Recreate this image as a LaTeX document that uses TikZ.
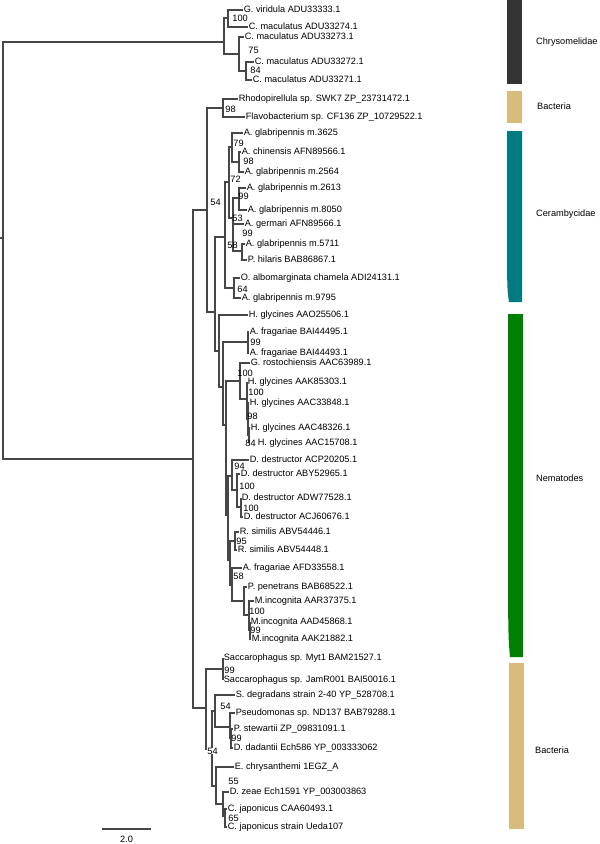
\documentclass[tikz,border=0pt]{standalone}
\usepackage{fontspec}
\setmainfont{Liberation Sans}
\definecolor{chryso}{HTML}{333333}
\definecolor{bact}{HTML}{D8BC7D}
\definecolor{ceram}{HTML}{007B7F}
\definecolor{nema}{HTML}{007F00}

\begin{document}
\begin{tikzpicture}[x=1pt, y=-1pt,
    leaf/.style={anchor=west, inner sep=0.6pt, font=\fontsize{9.2}{10}\selectfont, text height=6.6pt, text depth=1.7pt},
    boot/.style={anchor=west, inner sep=0.2pt, font=\fontsize{9.2}{10}\selectfont},
    branch/.style={draw=black!72, line width=1.1pt},
    cladelabel/.style={anchor=west, inner sep=0pt, font=\fontsize{9.2}{10}\selectfont}
]
\useasboundingbox (0,0) rectangle (600,844);

% leaves
\node[leaf] (l1) at (243,10) {G. viridula ADU33333.1};
\node[leaf] (l2) at (248,27) {C. maculatus ADU33274.1};
\node[leaf] (l3) at (244,37) {C. maculatus ADU33273.1};
\node[leaf] (l4) at (254,62) {C. maculatus ADU33272.1};
\node[leaf] (l5) at (252,80) {C. maculatus ADU33271.1};
\node[leaf] (l6) at (238,99) {Rhodopirellula sp. SWK7 ZP\_23731472.1};
\node[leaf] (l7) at (245,117) {Flavobacterium sp. CF136 ZP\_10729522.1};
\node[leaf] (l8) at (243,133) {A. glabripennis m.3625};
\node[leaf] (l9) at (241,152) {A. chinensis AFN89566.1};
\node[leaf] (l10) at (244,172) {A. glabripennis m.2564};
\node[leaf] (l11) at (246,188) {A. glabripennis m.2613};
\node[leaf] (l12) at (247,210) {A. glabripennis m.8050};
\node[leaf] (l13) at (244,224) {A. germari AFN89566.1};
\node[leaf] (l14) at (245,244) {A. glabripennis m.5711};
\node[leaf] (l15) at (247,260) {P. hilaris BAB86867.1};
\node[leaf] (l16) at (240,278) {O. albomarginata chamela ADI24131.1};
\node[leaf] (l17) at (241,298) {A. glabripennis m.9795};
\node[leaf] (l18) at (248,315) {H. glycines AAO25506.1};
\node[leaf] (l19) at (249,332) {A. fragariae BAI44495.1};
\node[leaf] (l20) at (249,353) {A. fragariae BAI44493.1};
\node[leaf] (l21) at (250,363) {G. rostochiensis AAC63989.1};
\node[leaf] (l22) at (247,382) {H. glycines AAK85303.1};
\node[leaf] (l23) at (249,403) {H. glycines AAC33848.1};
\node[leaf] (l24) at (250,428) {H. glycines AAC48326.1};
\coordinate (t25) at (249,443);
\node[leaf] (l25) at (257,443) {H. glycines AAC15708.1};
\node[leaf] (l26) at (249,460) {D. destructor ACP20205.1};
\node[leaf] (l27) at (240,474) {D. destructor ABY52965.1};
\node[leaf] (l28) at (241,498) {D. destructor ADW77528.1};
\node[leaf] (l29) at (243,517) {D. destructor ACJ60676.1};
\node[leaf] (l30) at (239,532) {R. similis ABV54446.1};
\node[leaf] (l31) at (237,550) {R. similis ABV54448.1};
\node[leaf] (l32) at (242,568) {A. fragariae AFD33558.1};
\node[leaf] (l33) at (247,587) {P. penetrans BAB68522.1};
\node[leaf] (l34) at (254,601) {M.incognita AAR37375.1};
\node[leaf] (l35) at (250,622) {M.incognita AAD45868.1};
\node[leaf] (l36) at (251,639) {M.incognita AAK21882.1};
\node[leaf] (l37) at (223,658) {Saccarophagus sp. Myt1 BAM21527.1};
\node[leaf] (l38) at (223,680) {Saccarophagus sp. JamR001 BAI50016.1};
\node[leaf] (l39) at (235,695) {S. degradans strain 2-40 YP\_528708.1};
\node[leaf] (l40) at (235,713) {Pseudomonas sp. ND137 BAB79288.1};
\node[leaf] (l41) at (233,729) {P. stewartii ZP\_09831091.1};
\node[leaf] (l42) at (233,748) {D. dadantii Ech586 YP\_003333062};
\node[leaf] (l43) at (234,767) {E. chrysanthemi 1EGZ\_A};
\node[leaf] (l44) at (229,792) {D. zeae Ech1591 YP\_003003863};
\node[leaf] (l45) at (227,809) {C. japonicus CAA60493.1};
\node[leaf] (l46) at (227,827) {C. japonicus strain Ueda107};

% internal nodes
\coordinate (r0) at (0,238);
\coordinate (rt) at (3,238);
\coordinate (c1) at (224,42);
\coordinate (ca) at (228,18);
\coordinate (cb) at (239,54);
\coordinate (cc) at (246,71);
\coordinate (n1) at (193,459);
\coordinate (n2) at (207,210);
\coordinate (bp) at (223,108);
\coordinate (n3) at (215,312);
\coordinate (ce) at (225,237);
\coordinate (cd) at (229,182);
\coordinate (cf) at (232,147);
\coordinate (ch) at (239,162);
\coordinate (cg) at (233,218);
\coordinate (ci) at (239,198);
\coordinate (cj) at (242,251);
\coordinate (ck) at (234,288);
\coordinate (nm) at (219,351);
\coordinate (nm2) at (223,387);
\coordinate (p1) at (248,342);
\coordinate (nm3) at (226,425);
\coordinate (hg1) at (240,381);
\coordinate (hg2) at (247,399);
\coordinate (hg3) at (248,419);
\coordinate (hg4) at (249,435);
\coordinate (nm4) at (228,515);
\coordinate (dg1) at (232,476);
\coordinate (dg2) at (237,490);
\coordinate (dg3) at (241,507);
\coordinate (nm5) at (230,560);
\coordinate (rg) at (235,541);
\coordinate (mg1) at (232,585);
\coordinate (mg2) at (244,601);
\coordinate (mg3) at (249,615);
\coordinate (mg4) at (250,630);
\coordinate (bb) at (206,708);
\coordinate (s1) at (223,669);
\coordinate (bc) at (212,749);
\coordinate (bd) at (215,711);
\coordinate (bf) at (230,727);
\coordinate (bg) at (231,738);
\coordinate (be) at (216,786);
\coordinate (bh) at (223,804);
\coordinate (bi) at (225,816);

% branches
\foreach \p/\c in {r0/rt, rt/c1, rt/n1, c1/ca, c1/cb, ca/l1.west, ca/l2.west, cb/l3.west, cb/cc,
    cc/l4.west, cc/l5.west, n1/n2, n1/bb, n2/bp, n2/n3, bp/l6.west, bp/l7.west, n3/ce, n3/nm,
    ce/cd, ce/ck, cd/cf, cd/cg, cf/l8.west, cf/ch, ch/l9.west, ch/l10.west, cg/ci, cg/l13.west,
    cg/cj, ci/l11.west, ci/l12.west, cj/l14.west, cj/l15.west, ck/l16.west, ck/l17.west,
    nm/l18.west, nm/nm2, nm2/p1, nm2/nm3, p1/l19.west, p1/l20.west, nm3/hg1, nm3/nm4,
    hg1/l21.west, hg1/hg2, hg2/l22.west, hg2/hg3, hg3/l23.west, hg3/hg4, hg4/l24.west, hg4/t25,
    nm4/dg1, nm4/nm5, dg1/l26.west, dg1/dg2, dg2/l27.west, dg2/dg3, dg3/l28.west, dg3/l29.west,
    nm5/rg, nm5/mg1, rg/l30.west, rg/l31.west, mg1/l32.west, mg1/mg2, mg2/l33.west, mg2/mg3,
    mg3/l34.west, mg3/mg4, mg4/l35.west, mg4/l36.west, bb/s1, bb/bc, s1/l37.west, s1/l38.west,
    bc/bd, bc/be, bd/l39.west, bd/bf, bf/l40.west, bf/bg, bg/l41.west, bg/l42.west,
    be/l43.west, be/bh, bh/l44.west, bh/bi, bi/l45.west, bi/l46.west}
  \draw[branch] (\p) |- (\c);

% bootstrap values
\foreach \t/\x/\y [count=\i] in {100/232/18, 75/248/50, 84/250/70, 98/225/109, 54/210/202,
    79/233/143, 98/243/161, 72/230/179, 99/238/196, 53/232/218, 99/242/233, 58/227/245,
    64/237/289, 99/250/342, 100/237/373, 100/248/392, 98/247/416, 84/245/443, 94/234/466,
    100/239/486, 100/243/508, 95/236/541, 58/233/576, 100/249/611, 99/250/630,
    99/224/670, 54/220/706, 99/231/738, 55/228/781, 65/228/818}
  \node[boot] (bs\i) at (\x,\y) {\t};
\node[boot, fill=white] (bsc) at (207,751) {54};

% clade bars
\fill[chryso] (507,0) rectangle (522,84);
\fill[bact] (507,91) rectangle (522,123);
\fill[ceram] (507,131) -- (522,131) -- (522,302) -- (509,302) .. controls (507.5,292) .. (507,270) -- cycle;
\fill[nema] (508,314) -- (523,314) -- (523,657) -- (510,657) .. controls (508.5,640) .. (508,600) -- cycle;
\fill[bact] (509,663) rectangle (524,829);
\node[cladelabel] (chr) at (536,42) {Chrysomelidae};
\node[cladelabel] (ba1) at (537,106) {Bacteria};
\node[cladelabel] (cer) at (536,214) {Cerambycidae};
\node[cladelabel] (nem) at (536,478) {Nematodes};
\node[cladelabel] (ba2) at (535,750) {Bacteria};

% scale bar
\coordinate (sbl) at (102,829);
\coordinate (sbr) at (151,829);
\draw[branch] (sbl) -- (sbr);
\node[boot, anchor=center] (sbt) at (126.5,839) {2.0};
\end{tikzpicture}
\end{document}
